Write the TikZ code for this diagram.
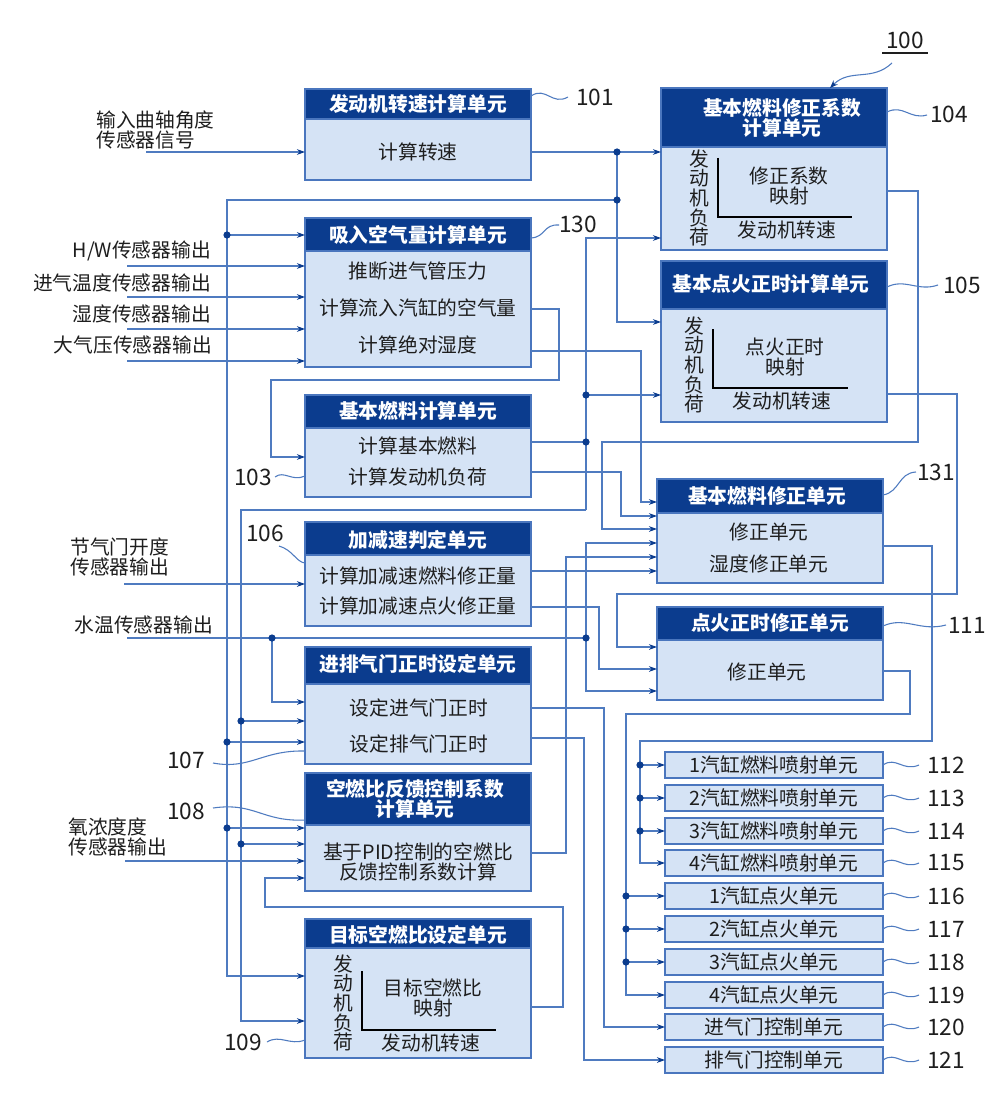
\documentclass[tikz,border=0pt]{standalone}
\usepackage{fontspec}
\setmainfont{Noto Sans CJK SC}
\usetikzlibrary{arrows.meta}
\definecolor{hdrblue}{HTML}{0B3C8E}
\definecolor{bodyblue}{HTML}{D5E3F5}
\definecolor{edgeblue}{HTML}{4A76BE}
\definecolor{wirec}{HTML}{4F7BC0}
\definecolor{dotblue}{HTML}{0B3C8E}
\definecolor{txtc}{HTML}{1E1E1E}
\newcommand\mkunit[6]{% name, x-left, top, header-bottom, bottom, width
  \node[bdy, minimum width={#6*0.75pt}, minimum height={(#5-#4)*0.75pt}] (#1) at (#2,#4) {};
  \node[hdr, minimum width={#6*0.75pt}, minimum height={(#4-#3)*0.75pt}] (#1h) at (#2,#3) {};
}
\begin{document}
\begin{tikzpicture}[x=0.75pt,y=-0.75pt,
  hdr/.style={draw=edgeblue, fill=hdrblue, line width=0.9pt, inner sep=0pt, outer sep=0pt, anchor=north west},
  bdy/.style={draw=edgeblue, fill=bodyblue, line width=0.9pt, inner sep=0pt, outer sep=0pt, anchor=north west},
  sbox/.style={draw=edgeblue, fill=bodyblue, line width=0.9pt, inner sep=0pt, outer sep=0pt, minimum width=218*0.75pt, minimum height=26*0.75pt, text=txtc, font=\fontsize{14.8}{14.6}\selectfont},
  htext/.style={text=white, font=\fontsize{14.8}{14.6}\selectfont\bfseries, align=center, inner sep=0pt},
  btext/.style={text=txtc, font=\fontsize{14.8}{14.6}\selectfont, align=center, inner sep=0pt},
  ltext/.style={text=txtc, font=\fontsize{14.8}{14.6}\selectfont, inner sep=0pt},
  wire/.style={draw=wirec, line width=0.95pt},
  arr/.style={wire, -{Stealth[length=6pt,width=4.2pt,color=dotblue]}},
  num/.style={text=txtc, font=\fontsize{17}{17}\selectfont, inner sep=0pt},
  lead/.style={draw=wirec, line width=0.8pt},
  axisl/.style={draw=black, line width=1.4pt},
  vtext/.style={text=txtc, font=\fontsize{14.8}{14.7}\selectfont, align=center, inner sep=0pt},
]
\useasboundingbox (0,0) rectangle (1000,1098);
\fill[white] (0,0) rectangle (1000,1098);

% ---------- left column units ----------
\mkunit{u101}{305}{89}{119}{180}{226}
\mkunit{u130}{305}{218}{251}{367}{226}
\mkunit{u103}{305}{395}{428}{497}{226}
\mkunit{u106}{305}{522}{555}{626}{226}
\mkunit{u107}{305}{647}{684}{764}{226}
\mkunit{u108}{305}{773}{825}{891}{226}
\mkunit{u109}{305}{919}{948}{1058}{226}
% ---------- right column units ----------
\mkunit{u104}{661}{88}{147}{250}{226}
\mkunit{u105}{661}{261}{309}{422}{226}
\mkunit{u131}{657}{479}{513}{583}{226}
\mkunit{u111}{657}{607}{640}{700}{226}

% headers
\node[htext] at (418,104) {发动机转速计算单元};
\node[htext] at (418,235) {吸入空气量计算单元};
\node[htext] at (418,411) {基本燃料计算单元};
\node[htext] at (418,540) {加减速判定单元};
\node[htext] at (418,664) {进排气门正时设定单元};
\node[htext] at (415,799) {空燃比反馈控制系数\\计算单元};
\node[htext] at (418,935) {目标空燃比设定单元};
\node[htext] at (782,118) {基本燃料修正系数\\计算单元};
\node[htext] at (771,284) {基本点火正时计算单元};
\node[htext] at (767,496) {基本燃料修正单元};
\node[htext] at (770,623) {点火正时修正单元};

% body texts
\node[btext] at (418,152) {计算转速};
\node[btext] at (418,271) {推断进气管压力};
\node[btext] at (418,308) {计算流入汽缸的空气量};
\node[btext] at (418,345) {计算绝对湿度};
\node[btext] at (418,446) {计算基本燃料};
\node[btext] at (418,477) {计算发动机负荷};
\node[btext] at (418,576) {计算加减速燃料修正量};
\node[btext] at (418,606) {计算加减速点火修正量};
\node[btext] at (419,708) {设定进气门正时};
\node[btext] at (419,744) {设定排气门正时};
\node[btext] at (418,862) {基于PID控制的空燃比\\反馈控制系数计算};
\node[btext] at (769,532) {修正单元};
\node[btext] at (769,564) {湿度修正单元};
\node[btext] at (767,672) {修正单元};

% maps
\node[vtext] at (699,198) {发\\动\\机\\负\\荷};
\draw[axisl] (718,158) -- (718,217) -- (852,217);
\node[btext] at (789,186) {修正系数\\映射};
\node[btext] at (787,230) {发动机转速};

\node[vtext] at (694,365) {发\\动\\机\\负\\荷};
\draw[axisl] (713,329) -- (713,388) -- (848,388);
\node[btext] at (785,357) {点火正时\\映射};
\node[btext] at (782,401) {发动机转速};

\node[vtext] at (343,1003) {发\\动\\机\\负\\荷};
\draw[axisl] (362,971) -- (362,1030) -- (496,1030);
\node[btext] at (433,998) {目标空燃比\\映射};
\node[btext] at (431,1043) {发动机转速};

% small output units
\node[sbox] (c112) at (774,765) {1汽缸燃料喷射单元};
\node[sbox] (c113) at (774,798) {2汽缸燃料喷射单元};
\node[sbox] (c114) at (774,831) {3汽缸燃料喷射单元};
\node[sbox] (c115) at (774,863) {4汽缸燃料喷射单元};
\node[sbox] (c116) at (774,896) {1汽缸点火单元};
\node[sbox] (c117) at (774,929) {2汽缸点火单元};
\node[sbox] (c118) at (774,962) {3汽缸点火单元};
\node[sbox] (c119) at (774,995) {4汽缸点火单元};
\node[sbox] (c120) at (774,1027) {进气门控制单元};
\node[sbox] (c121) at (774,1060) {排气门控制单元};

% input texts
\node[ltext, align=left, anchor=west] (tcrank) at (96,130) {输入曲轴角度\\传感器信号};
\node[ltext, anchor=east] (thw) at (211,251) {H/W传感器输出};
\node[ltext, anchor=east] (tair) at (211,283) {进气温度传感器输出};
\node[ltext, anchor=east] (thum) at (211,314) {湿度传感器输出};
\node[ltext, anchor=east] (tatm) at (212,345) {大气压传感器输出};
\node[ltext, align=left, anchor=west] (tthr) at (70,557) {节气门开度\\传感器输出};
\node[ltext, anchor=east] (twat) at (213,625) {水温传感器输出};
\node[ltext, align=left, anchor=west] (to2) at (68,837) {氧浓度度\\传感器输出};

% ---------- connectors ----------
\draw[arr] (146,152) -- (u101.west |- 0,152);
\draw[arr] (u101.east |- 0,152) -- (u104.west |- 0,152);
\draw[arr] (617,152) -- (617,322) -- (u105.west |- 0,322);
\draw[arr] (617,200) -- (227,200) -- (227,976) -- (u109.west |- 0,976);
\draw[arr] (227,235) -- (u130h.west |- 0,235);
\draw[arr] (227,742) -- (u107.west |- 0,742);
\draw[arr] (227,828) -- (u108.west |- 0,828);
\foreach \y in {266,297,329,361} \draw[arr] (127,\y) -- (u130.west |- 0,\y);
\draw[arr] (u130.east |- 0,309) -- (559,309) -- (559,380) -- (271,380) -- (271,457) -- (u103.west |- 0,457);
\draw[arr] (u130.east |- 0,351) -- (641,351) -- (641,502) -- (u131h.west |- 0,502);
% engine load bus
\draw[arr] (586,510) -- (586,238) -- (u104.west |- 0,238);
\draw[arr] (586,510) -- (241,510) -- (241,1021) -- (u109.west |- 0,1021);
\draw[wire] (u103.east |- 0,442) -- (586,442);
\draw[arr] (586,395) -- (u105.west |- 0,395);
\draw[arr] (241,721) -- (u107.west |- 0,721);
\draw[arr] (241,844) -- (u108.west |- 0,844);
\draw[arr] (u103.east |- 0,472) -- (621,472) -- (621,516) -- (u131.west |- 0,516);
\draw[arr] (u104.east |- 0,191) -- (918,191) -- (918,442) -- (602,442) -- (602,529) -- (u131.west |- 0,529);
% water temperature
\draw[wire] (127,638) -- (586,638);
\draw[arr] (272,638) -- (272,702) -- (u107.west |- 0,702);
\draw[arr] (586,638) -- (586,543) -- (u131.west |- 0,543);
\draw[arr] (586,638) -- (586,691) -- (u111.west |- 0,691);
% other
\draw[arr] (u108.east |- 0,853) -- (566,853) -- (566,557) -- (u131.west |- 0,557);
\draw[arr] (u106.east |- 0,571) -- (u131.west |- 0,571);
\draw[arr] (124,584) -- (u106.west |- 0,584);
\draw[arr] (u106.east |- 0,607) -- (599,607) -- (599,669) -- (u111.west |- 0,669);
\draw[arr] (u105.east |- 0,394) -- (957,394) -- (957,594) -- (617,594) -- (617,647) -- (u111.west |- 0,647);
\draw[arr] (u131.east |- 0,546) -- (932,546) -- (932,741) -- (640,741) -- (640,863) -- (c115.west);
\foreach \n/\y in {c112/765, c113/798, c114/831} \draw[arr] (640,\y) -- (\n.west);
\draw[arr] (u111.east |- 0,671) -- (910,671) -- (910,714) -- (626,714) -- (626,995) -- (c119.west);
\foreach \n/\y in {c116/896, c117/929, c118/962} \draw[arr] (626,\y) -- (\n.west);
\draw[arr] (u107.east |- 0,708) -- (604,708) -- (604,1027) -- (c120.west);
\draw[arr] (u107.east |- 0,738) -- (584,738) -- (584,1060) -- (c121.west);
\draw[arr] (125,861) -- (u108.west |- 0,861);
\draw[arr] (u109.east |- 0,1007) -- (563,1007) -- (563,907) -- (265,907) -- (265,878) -- (u108.west |- 0,878);

% dots
\foreach \p in {(617,152),(617,200),(227,235),(227,742),(227,828),(586,395),(586,442),(241,721),(241,844),(272,638),(586,638),(640,765),(640,798),(640,831),(626,896),(626,929),(626,962)}
  \fill[dotblue] \p circle (2.7pt);

% ---------- reference labels ----------
\draw[lead] (u101h.east |- 0,96) .. controls (546,86) and (552,106) .. (568,97);
\node[num] (n101) at (595,97) {101};
\draw[lead] (u130h.east |- 0,238) .. controls (546,237) and (543,224) .. (559,225);
\node[num] (n130) at (578,224) {130};
\draw[lead] (u104h.east |- 0,112) .. controls (903,104) and (910,120) .. (927,115);
\node[num] (n104) at (949,114) {104};
\draw[lead] (u105h.east |- 0,287) .. controls (905,278) and (918,292) .. (938,285);
\node[num] (n105) at (962,285) {105};
\draw[lead] (u131h.east |- 0,495) .. controls (900,492) and (898,473) .. (916,472);
\node[num] (n131) at (936,472) {131};
\draw[lead] (u111h.east |- 0,626) .. controls (905,616) and (920,632) .. (946,625);
\node[num] (n111) at (967,625) {111};
\draw[lead] (275,477) .. controls (284,470) and (292,482) .. (u103.west |- 0,476);
\node[num] (n103) at (253,477) {103};
\draw[lead] (279,546) .. controls (293,550) and (296,562) .. (u106.west |- 0,563);
\node[num] (n106) at (265,533) {106};
\draw[lead] (213,763) .. controls (250,770) and (262,750) .. (u107.west |- 0,751);
\node[num] (n107) at (186,760) {107};
\draw[lead] (213,808) .. controls (255,802) and (262,822) .. (u108h.west |- 0,820);
\node[num] (n108) at (186,811) {108};
\draw[lead] (267,1042) .. controls (280,1034) and (290,1046) .. (u109.west |- 0,1040);
\node[num] (n109) at (243,1042) {109};
\foreach \n/\y/\t in {c112/765/112, c113/798/113, c114/831/114, c115/863/115, c116/896/116, c117/929/117, c118/962/118, c119/995/119, c120/1027/120, c121/1060/121}{
  \draw[lead] (\n.east) .. controls (896,\y-9) and (903,\y+7) .. (919,\y);
  \node[num] at (946,\y) {\t};
}
% 100
\node[num] (n100) at (905,40) {100};
\draw[line width=0.8pt, txtc] (882,53) -- (928,53);
\draw[lead, -{Stealth[length=6pt,width=4.5pt,color=dotblue]}] (892,63) .. controls (872,82) and (850,68) .. (u104h.north -| 830,0);
\end{tikzpicture}
\end{document}
